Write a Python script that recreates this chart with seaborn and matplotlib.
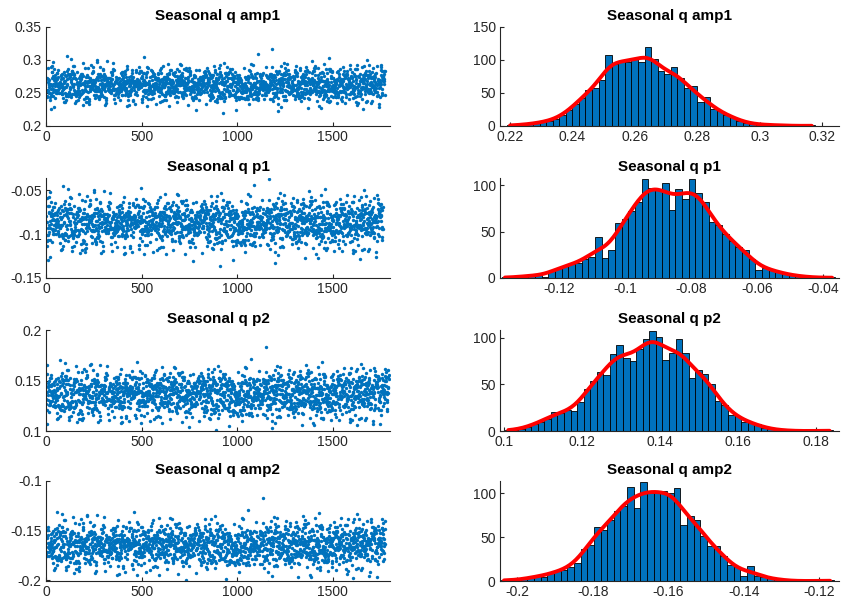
import numpy as np
import seaborn as sns
import matplotlib.pyplot as plt
from matplotlib.ticker import FuncFormatter

# histogram counts (one list per parameter)
amp1_counts = [1, 1, 2, 3, 4, 6, 8, 10, 16, 24, 33, 43, 55, 57, 70, 107, 94, 99, 97, 103,
               97, 120, 101, 83, 78, 89, 73, 57, 60, 37, 44, 25, 22, 17, 14, 7, 5, 3, 2, 2,
               1, 1, 1, 0, 0, 0, 1]
amp1_edges = (0.219, 0.3177)

p1_counts = [1, 0, 1, 2, 3, 3, 1, 8, 11, 13, 15, 16, 20, 23, 44, 22, 30, 59, 64, 72,
             82, 107, 97, 96, 103, 73, 96, 85, 107, 92, 82, 60, 57, 47, 40, 33, 30, 20, 9, 11,
             9, 6, 4, 3, 2, 1, 1, 0, 0, 1]
p1_edges = (-0.1374, -0.0362)

p2_counts = [1, 1, 2, 4, 8, 10, 13, 20, 19, 22, 21, 31, 45, 53, 63, 60, 82, 92, 78, 75,
             88, 98, 107, 101, 76, 83, 98, 83, 57, 65, 61, 50, 32, 28, 17, 16, 10, 9, 7, 3,
             2, 1, 1, 0, 0, 0, 0, 0, 0, 1]
p2_edges = (0.1003, 0.1843)

amp2_counts = [1, 1, 1, 2, 4, 6, 5, 9, 11, 13, 16, 20, 37, 41, 61, 58, 70, 80, 85, 107,
               83, 113, 100, 100, 103, 100, 106, 64, 74, 70, 51, 40, 40, 28, 18, 16, 6, 17, 6, 4,
               3, 2, 1, 0, 0, 0, 0, 0, 0, 1]
amp2_edges = (-0.2044, -0.1162)

titles = ["Seasonal q amp1", "Seasonal q p1", "Seasonal q p2", "Seasonal q amp2"]
trace_ylims = [(0.2, 0.35), (-0.15, -0.0358), (0.1, 0.2), (-0.2007, -0.1)]
trace_yticks = [[0.2, 0.25, 0.3, 0.35], [-0.15, -0.1, -0.05], [0.1, 0.15, 0.2], [-0.2, -0.15, -0.1]]
hist_xlims = [(0.2168, 0.3253), (-0.1379, -0.0352), (0.099, 0.1858), (-0.2046, -0.1148)]
hist_xticks = [[0.22, 0.24, 0.26, 0.28, 0.3, 0.32], [-0.12, -0.1, -0.08, -0.06, -0.04],
               [0.1, 0.12, 0.14, 0.16, 0.18], [-0.2, -0.18, -0.16, -0.14, -0.12]]
hist_ylims = [(0, 150), (0, 108), (0, 108), (0, 114)]
hist_yticks = [[0, 50, 100, 150], [0, 50, 100], [0, 50, 100], [0, 50, 100]]

all_counts = [amp1_counts, p1_counts, p2_counts, amp2_counts]
all_edges = [amp1_edges, p1_edges, p2_edges, amp2_edges]

sns.set_theme(style="white")
plt.rcParams['font.family'] = ['Liberation Sans', 'DejaVu Sans']

BLUE = '#0072BD'
GREY = '#262626'

fig = plt.figure(figsize=(8.43, 6.08), dpi=100)
rows = [(0.7928, 0.163), (0.5428, 0.1645), (0.2911, 0.166), (0.0444, 0.1645)]
fmt = FuncFormatter(lambda v, p: '{:g}'.format(round(v, 6)))


def style(ax):
    sns.despine(ax=ax)
    for s in ['left', 'bottom']:
        ax.spines[s].set_color(GREY)
        ax.spines[s].set_linewidth(0.8)
    ax.tick_params(direction='in', length=3, width=0.8, colors=GREY, labelsize=10,
                   left=True, bottom=True, pad=3)
    ax.set_xlabel('')
    ax.set_ylabel('')


def mix(j, salt):
    # integer hash, only used to scatter the read samples along the trace
    h = (j.astype(np.uint64) + np.uint64(salt)) * np.uint64(0x9E3779B97F4A7C15)
    h ^= h >> np.uint64(31)
    h *= np.uint64(0xBF58476D1CE4E5B9)
    h ^= h >> np.uint64(29)
    return h


for i in range(4):
    counts = np.array(all_counts[i])
    edges = np.linspace(all_edges[i][0], all_edges[i][1], len(counts) + 1)
    width = edges[1] - edges[0]
    # expand counts into samples spread across each bin
    samples = np.concatenate([edges[k] + width * (np.arange(c) + 0.5) / c
                              for k, c in enumerate(counts) if c > 0])
    n = len(samples)
    order = np.argsort(mix(np.arange(n), 17 * i + 3))
    trace = np.empty(n)
    trace[order] = samples
    idx = np.arange(1, n + 1)

    bottom, height = rows[i]
    axl = fig.add_axes([0.0546, bottom, 0.408, height])
    sns.scatterplot(x=idx, y=trace, ax=axl, s=6, color=BLUE, linewidth=0)
    axl.set_xlim(0, 1800)
    axl.set_ylim(*trace_ylims[i])
    axl.set_xticks([0, 500, 1000, 1500])
    axl.set_yticks(trace_yticks[i])
    axl.yaxis.set_major_formatter(fmt)
    axl.set_title(titles[i], fontsize=11, fontweight='bold', pad=5, color='black')
    style(axl)

    axr = fig.add_axes([0.593, bottom, 0.402, height])
    sns.histplot(x=samples, bins=edges, ax=axr, color=BLUE, alpha=1, edgecolor='black',
                 linewidth=0.6, kde=True, kde_kws={'cut': 0},
                 line_kws={'linewidth': 2.8})
    axr.lines[-1].set_color('#FF0000')
    axr.set_xlim(*hist_xlims[i])
    axr.set_ylim(*hist_ylims[i])
    axr.set_xticks(hist_xticks[i])
    axr.set_yticks(hist_yticks[i])
    axr.xaxis.set_major_formatter(fmt)
    axr.set_title(titles[i], fontsize=11, fontweight='bold', pad=5, color='black')
    style(axr)

plt.savefig("out.png", dpi=100)
